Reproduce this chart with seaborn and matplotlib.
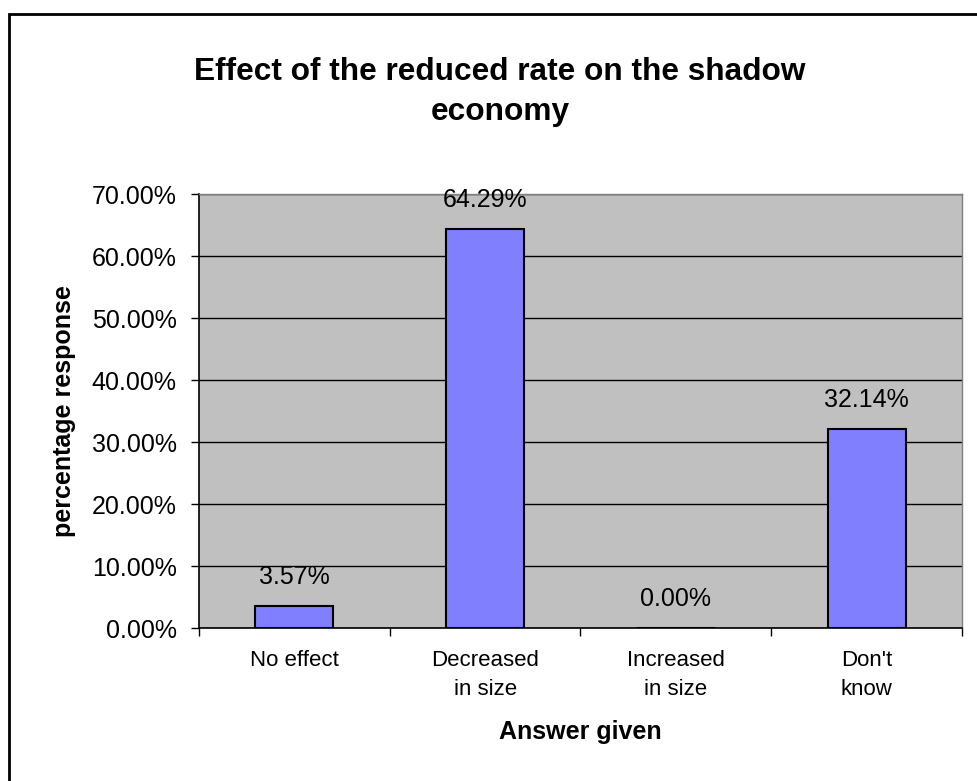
import matplotlib
matplotlib.use("Agg")
import matplotlib.pyplot as plt
import seaborn as sns
import pandas as pd
from matplotlib.patches import Rectangle
from matplotlib.ticker import FuncFormatter

# datos del grafico
categorias = ["No effect", "Decreased\nin size", "Increased\nin size", "Don't\nknow"]
valores = [3.57, 64.29, 0.00, 32.14]
etiquetas = ["3.57%", "64.29%", "0.00%", "32.14%"]
yticks = [0, 10, 20, 30, 40, 50, 60, 70]

df = pd.DataFrame({"respuesta": categorias, "porcentaje": valores})

sns.set_style("white")
plt.rcParams["font.family"] = ["Liberation Sans", "DejaVu Sans"]
plt.rcParams["text.color"] = "black"
plt.rcParams["axes.labelcolor"] = "black"
plt.rcParams["xtick.color"] = "black"
plt.rcParams["ytick.color"] = "black"

fig = plt.figure(figsize=(9.78, 7.81), dpi=100)
ax = fig.add_axes([199 / 978, 1 - 628 / 781, 763 / 978, 434 / 781])
ax.set_facecolor("#C0C0C0")

sns.barplot(data=df, x="respuesta", y="porcentaje", color="#8080FF",
            saturation=1, width=0.41, edgecolor="black", linewidth=1.5, ax=ax)

ax.set_ylim(0, 70)
ax.set_xlim(-0.5, 3.5)
ax.set_yticks(yticks)
ax.yaxis.set_major_formatter(FuncFormatter(lambda v, p: f"{v:.2f}%"))
ax.grid(axis="y", color="black", linewidth=1)
ax.set_axisbelow(True)

# etiquetas de valor
for i, (v, t) in enumerate(zip(valores, etiquetas)):
    ax.annotate(t, (i, v), xytext=(0, 29), textcoords="offset pixels",
                ha="center", va="center", fontsize=18)

for s in ["left", "bottom"]:
    ax.spines[s].set_color("black")
    ax.spines[s].set_linewidth(1.2)
for s in ["top", "right"]:
    ax.spines[s].set_color("#808080")
    ax.spines[s].set_linewidth(1)

ax.tick_params(axis="y", which="major", direction="out", length=6, width=1,
               labelsize=18, left=True, pad=10)
ax.set_xticks([0, 1, 2, 3])
ax.set_xticklabels(categorias, fontsize=16, linespacing=1.5)
ax.set_xticks([-0.5, 0.5, 1.5, 2.5, 3.5], minor=True)
ax.tick_params(axis="x", which="minor", direction="out", length=6, width=1,
               bottom=True)
ax.tick_params(axis="x", which="major", length=0, pad=15.5)

ax.set_xlabel("Answer given", fontsize=18, fontweight="bold", labelpad=14.5)
ax.set_ylabel("percentage response", fontsize=18, fontweight="bold", labelpad=11)

fig.text(500 / 978, 1 - 80 / 781, "Effect of the reduced rate on the shadow",
         ha="center", va="baseline", fontsize=22.8, fontweight="bold")
fig.text(500 / 978, 1 - 120 / 781, "economy",
         ha="center", va="baseline", fontsize=22.8, fontweight="bold")

# borde del grafico
fig.patches.append(Rectangle((8.5 / 978, -0.02), 1.05, 1 - 13.5 / 781 + 0.02,
                             transform=fig.transFigure, fill=False,
                             edgecolor="black", linewidth=2))

fig.savefig("out.png", dpi=100)
